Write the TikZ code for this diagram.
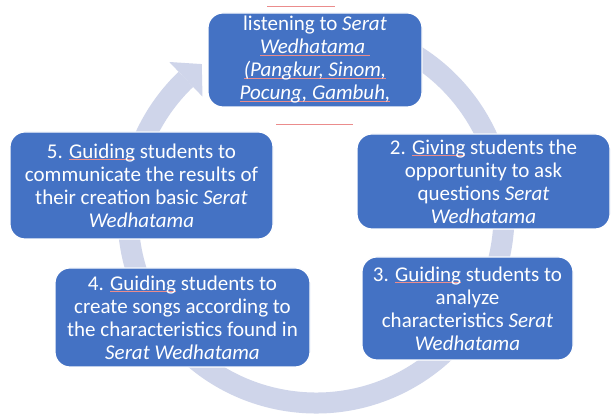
\documentclass[tikz,border=0pt]{standalone}
\usepackage{fontspec}
\setmainfont{Carlito}
\usetikzlibrary{calc}
\definecolor{boxblue}{HTML}{4472C4}
\definecolor{ringc}{HTML}{CFD5EA}
\definecolor{sqred}{RGB}{235,140,140}
\newsavebox\sqbox
\newcommand\sqm[1]{\sbox\sqbox{#1}\rlap{\color{sqred}\rule[-1.6pt]{\wd\sqbox}{0.6pt}}\usebox\sqbox}
\begin{document}
\begin{tikzpicture}[x=1pt,y=1pt,
  stepbox/.style={draw=white, line width=1.2pt, fill=boxblue, rounded corners=15pt,
    text=white, align=center, inner sep=0pt,
    font=\fontsize{21}{23}\selectfont},
  ringarc/.style={draw=ringc, line width=21pt},
  sqline/.style={draw=sqred, line width=1pt}]
\useasboundingbox[fill=white] (0,0) rectangle (611,414);
\coordinate (C) at (316,199);
% ring
\draw[ringarc] ($(C)+(80:188)$) arc[start angle=80, end angle=-226.2, radius=188];
\fill[ringc] ($(C)+(133.8:212)$) -- ($(C)+(133.8:164)$) -- ($(C)+(133.8:188)+(43.8:22)$) -- cycle;
% stray spell-check marks of hidden text
\draw[sqline] (267,407) -- (335,407);
\draw[sqline] (276,289) -- (353,289);
% boxes
\node[stepbox, minimum width=214pt, minimum height=94pt] (b1) at (315,354)
  {listening to \textit{Serat}\\ \sqm{\textit{Wedhatama\ }}\\ \sqm{\textit{(Pangkur, Sinom,}}\\ \sqm{\textit{Pocung, Gambuh,}}};
\node[stepbox, minimum width=253pt, minimum height=95pt] (b2) at (483.5,232.5)
  {2. \sqm{Giving} students the\\ opportunity to ask\\ questions \textit{Serat}\\ \textit{Wedhatama}};
\node[stepbox, minimum width=211pt, minimum height=103pt] (b3) at (467.5,105.5)
  {3. \sqm{Guiding} students to\\ analyze\\ characteristics \textit{Serat}\\ \textit{Wedhatama}};
\node[stepbox, minimum width=255pt, minimum height=99pt] (b4) at (182.5,96.5)
  {4. \sqm{Guiding} students to\\ create songs according to\\ the characteristics found in\\ \textit{Serat Wedhatama}};
\node[stepbox, minimum width=263pt, minimum height=107pt] (b5) at (141.5,228.5)
  {5. \sqm{Guiding} students to\\ communicate the results of\\ their creation basic \textit{Serat}\\ \textit{Wedhatama}};
\end{tikzpicture}
\end{document}
